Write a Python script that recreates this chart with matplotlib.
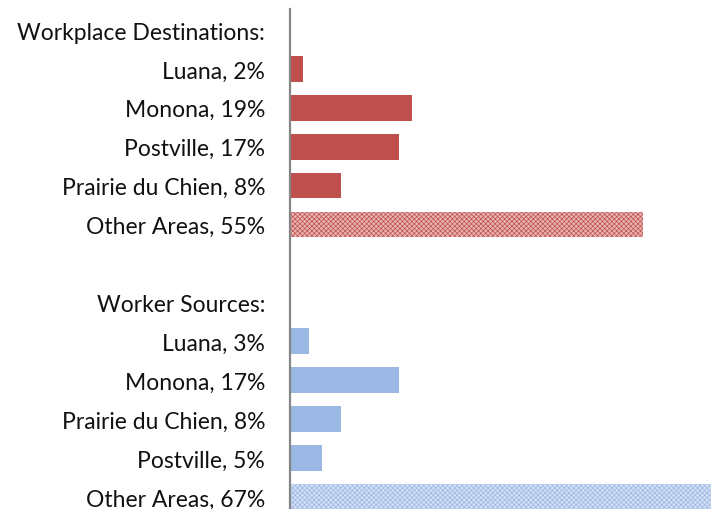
import numpy as np
import matplotlib
matplotlib.use("Agg")
from matplotlib import pyplot as plt

# workplace destinations (red) and worker sources (blue)
dest_names = ["Luana", "Monona", "Postville", "Prairie du Chien", "Other Areas"]
dest_pct = [2, 19, 17, 8, 55]
src_names = ["Luana", "Monona", "Prairie du Chien", "Postville", "Other Areas"]
src_pct = [3, 17, 8, 5, 67]

RED = "#C0504D"
RED_LIGHT = "#E7B4B3"
BLUE = "#9BB7E4"
BLUE_LIGHT = "#D3E0F5"

plt.rcParams["font.family"] = ["Lato", "DejaVu Sans"]
plt.rcParams["hatch.linewidth"] = 0.5

labels = ["Workplace Destinations:"]
labels += [f"{n}, {p}%" for n, p in zip(dest_names, dest_pct)]
labels += ["", "Worker Sources:"]
labels += [f"{n}, {p}%" for n, p in zip(src_names, src_pct)]

fig = plt.figure(figsize=(7.11, 5.10), dpi=100)
ax = fig.add_axes([290 / 711, 0, 1 - 290 / 711, 1 - 10 / 510])

dest_y = np.arange(1, 6)
src_y = np.arange(8, 13)
h = 0.66

ax.barh(dest_y[:-1], dest_pct[:-1], height=h, color=RED, linewidth=0)
ax.barh(dest_y[-1:], dest_pct[-1:], height=h, facecolor=RED_LIGHT,
        edgecolor=RED, linewidth=0, hatch="xxxxxxx")
ax.barh(src_y[:-1], src_pct[:-1], height=h, color=BLUE, linewidth=0)
ax.barh(src_y[-1:], src_pct[-1:], height=h, facecolor=BLUE_LIGHT,
        edgecolor=BLUE, linewidth=0, hatch="xxxxxxx")

ax.set_yticks(np.arange(len(labels)))
ax.set_yticklabels(labels, fontsize=16.5, color="#111111")
ax.tick_params(axis="y", length=0, pad=18)
ax.set_xticks([])
ax.set_xlim(0, 421 / 6.42)
ax.set_ylim(12.31, -0.54)

for s in ["top", "right", "bottom"]:
    ax.spines[s].set_visible(False)
ax.spines["left"].set_color("#868686")
ax.spines["left"].set_linewidth(1.6)

fig.savefig("out.png", dpi=100)
